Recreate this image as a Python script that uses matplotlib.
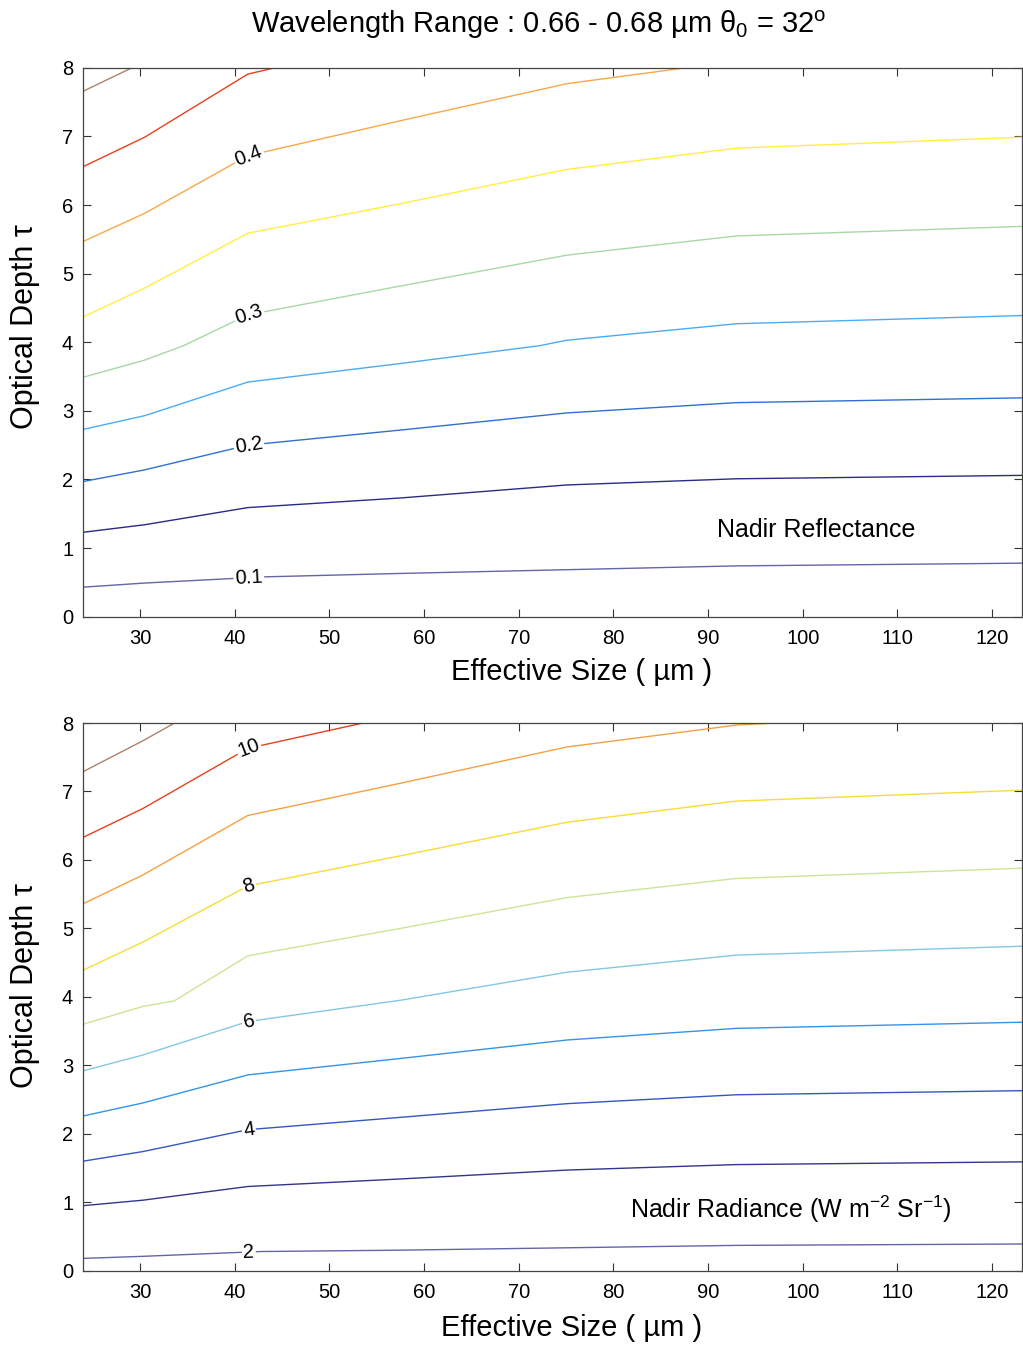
import numpy as np
import matplotlib.pyplot as plt

plt.rcParams['font.family'] = ['Liberation Sans', 'DejaVu Sans']
plt.rcParams['mathtext.fontset'] = 'custom'
plt.rcParams['mathtext.rm'] = 'Liberation Sans'
plt.rcParams['mathtext.it'] = 'Liberation Sans:italic'

# ---- top panel : nadir reflectance contours ----
refl_levels = [0.1, 0.15, 0.2, 0.25, 0.3, 0.35, 0.4, 0.45, 0.5]
refl_x = [
    [24, 30.5, 43.1, 57.5, 93, 123.3],
    [24, 30.5, 41.4, 57.5, 75.1, 93, 123.3],
    [24, 30.5, 41.4, 57.5, 75.1, 93, 123.3],
    [24, 30.5, 41.4, 57.5, 72.2, 75.1, 93, 123.3],
    [24, 30.5, 34.6, 41.4, 57.5, 75.1, 93, 123.3],
    [24, 30.5, 41.4, 57.5, 75.1, 93, 123.3],
    [24, 30.5, 41.4, 57.5, 75.1, 93],
    [24, 30.5, 41.4, 48],
    [24, 30.5],
]
refl_y = [
    [0.43, 0.49, 0.58, 0.63, 0.74, 0.78],
    [1.23, 1.34, 1.59, 1.73, 1.92, 2.01, 2.06],
    [1.97, 2.14, 2.50, 2.72, 2.97, 3.12, 3.19],
    [2.73, 2.93, 3.42, 3.69, 3.95, 4.03, 4.27, 4.39],
    [3.49, 3.74, 3.95, 4.40, 4.82, 5.27, 5.55, 5.69],
    [4.37, 4.79, 5.59, 6.02, 6.52, 6.83, 6.99],
    [5.47, 5.88, 6.72, 7.23, 7.77, 8.10],
    [6.56, 6.99, 7.91, 8.12],
    [7.66, 8.09],
]
refl_colors = ['#6464a8', '#2a2a88', '#3070d0', '#4aacf6', '#a8d8a8',
               '#fff040', '#f8a848', '#e8401e', '#b08070']
refl_labeled = [0.1, 0.2, 0.3, 0.4]

# ---- bottom panel : nadir radiance contours ----
rad_levels = [2, 3, 4, 5, 6, 7, 8, 9, 10, 11]
rad_x = [
    [24, 30.3, 42.7, 57.5, 93, 123.3],
    [24, 30.3, 41.4, 57.5, 75.1, 93, 123.3],
    [24, 30.3, 41.4, 57.5, 75.1, 93, 123.3],
    [24, 30.3, 41.4, 57.5, 75.1, 93, 123.3],
    [24, 30.3, 41.4, 57.5, 75.1, 93, 123.3],
    [24, 30.3, 33.6, 41.4, 57.5, 75.1, 93, 123.3],
    [24, 30.3, 41.4, 57.5, 75.1, 93, 123.3],
    [24, 30.3, 41.4, 57.5, 75.1, 93, 123.3],
    [24, 30.3, 41.4, 57.5],
    [24, 30.3, 41.4],
]
rad_y = [
    [0.18, 0.21, 0.28, 0.30, 0.37, 0.39],
    [0.95, 1.03, 1.23, 1.34, 1.47, 1.55, 1.59],
    [1.60, 1.74, 2.06, 2.24, 2.44, 2.57, 2.63],
    [2.26, 2.45, 2.86, 3.10, 3.37, 3.54, 3.63],
    [2.92, 3.15, 3.64, 3.95, 4.36, 4.61, 4.74],
    [3.60, 3.86, 3.94, 4.60, 5.00, 5.45, 5.73, 5.88],
    [4.39, 4.80, 5.62, 6.06, 6.55, 6.86, 7.02],
    [5.36, 5.78, 6.65, 7.12, 7.65, 7.97, 8.20],
    [6.33, 6.75, 7.63, 8.12],
    [7.29, 7.74, 8.60],
]
rad_colors = ['#6464a8', '#34348c', '#3458c0', '#3494e8', '#84c8e0',
              '#cce496', '#f8dc38', '#f8a040', '#e8401e', '#b08070']
rad_labeled = [2, 4, 6, 8, 10]

label_x = 41.5


def draw_panel(ax, levels, xs, ys, colors, labeled, fmt, xlab_pos, ylab_y):
    for lev, x, y, c in zip(levels, xs, ys, colors):
        ax.plot(x, y, color=c, lw=1.0, solid_joinstyle='miter')
    ax.set_xlim(23.98, 123.17)
    ax.set_ylim(0, 8)
    ax.set_xticks(range(30, 121, 10))
    ax.set_yticks(range(0, 9))
    ax.tick_params(direction='in', length=6, width=0.8, top=True, right=True,
                   labelsize=14.5, colors='#333333', labelcolor='black')
    ax.tick_params(axis='x', pad=9)
    ax.tick_params(axis='y', pad=7)
    for s in ax.spines.values():
        s.set_color('#444444')
        s.set_linewidth(0.9)
    ax.set_xlabel('Effective Size ( µm )', fontsize=21, va='center')
    ax.xaxis.set_label_coords(*xlab_pos)
    ax.set_ylabel('Optical Depth τ', fontsize=22, va='center')
    ax.yaxis.set_label_coords(-0.0618, ylab_y)
    # inline contour labels
    for lev, x, y in zip(levels, xs, ys):
        if lev not in labeled:
            continue
        yl = np.interp(label_x, x, y)
        p1 = ax.transData.transform((label_x - 1.5, np.interp(label_x - 1.5, x, y)))
        p2 = ax.transData.transform((label_x + 1.5, np.interp(label_x + 1.5, x, y)))
        ang = np.degrees(np.arctan2(p2[1] - p1[1], p2[0] - p1[0]))
        ax.text(label_x, yl, fmt(lev), fontsize=14.5, ha='center', va='center',
                rotation=ang, rotation_mode='anchor',
                bbox=dict(facecolor='white', edgecolor='none', pad=1.0))


fig = plt.figure(figsize=(10.23, 13.47), dpi=100)
ax1 = fig.add_axes([0.0811, 0.5422, 0.918, 0.4074])
ax2 = fig.add_axes([0.0811, 0.05664, 0.918, 0.4066])

draw_panel(ax1, refl_levels, refl_x, refl_y, refl_colors, refl_labeled,
           lambda v: '%g' % v, (0.531, -0.1008), 0.528)
draw_panel(ax2, rad_levels, rad_x, rad_y, rad_colors, rad_labeled,
           lambda v: '%d' % v, (0.52, -0.1046), 0.52)

ax1.text(101.4, 1.26, 'Nadir Reflectance', fontsize=18, ha='center', va='center')
ax2.text(98.7, 0.89, 'Nadir Radiance (W m$^{-2}$ Sr$^{-1}$)', fontsize=18,
         ha='center', va='center')

fig.text(539 / 1023, 1 - 33 / 1347,
         'Wavelength Range : 0.66 - 0.68 µm θ$_0$ = 32$^\\mathrm{o}$',
         fontsize=21, ha='center', va='baseline')

fig.savefig('out.png', dpi=100, facecolor='white')
